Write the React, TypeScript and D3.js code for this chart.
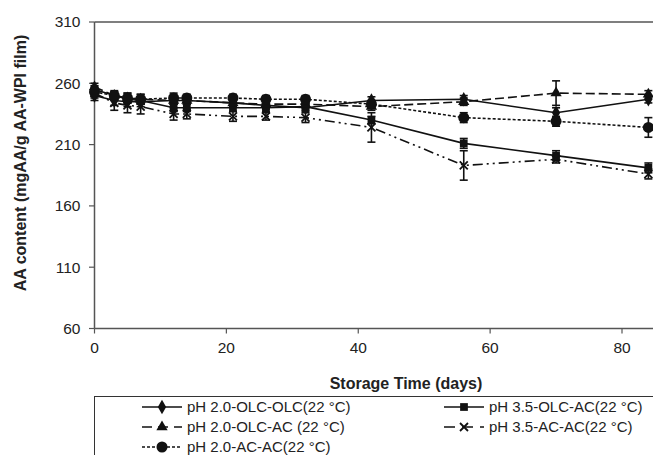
import React, { useEffect } from 'react';
import * as d3 from 'd3';

const days = [0, 3, 5, 7, 12, 14, 21, 26, 32, 42, 56, 70, 84];
const ph20OlcOlc = [250, 246, 245, 245, 246, 246, 244, 242, 240, 246, 247, 236, 247];
const ph20OlcOlcErr = [4, 4, 4, 4, 3, 3, 3, 3, 3, 3, 3, 4, 3];
const ph35OlcAc = [255, 250, 247, 246, 240, 240, 240, 240, 241, 230, 211, 201, 191];
const ph35OlcAcErr = [3, 3, 3, 3, 3, 3, 3, 3, 3, 3, 4, 4, 4];
const ph20OlcAc = [257, 250, 248, 247, 246, 246, 244, 243, 243, 241, 245, 252, 251];
const ph20OlcAcErr = [3, 4, 4, 4, 3, 3, 3, 3, 3, 3, 3, 10, 3];
const ph35AcAc = [252, 244, 242, 241, 235, 235, 233, 233, 232, 224, 193, 198, 186];
const ph35AcAcErr = [4, 6, 6, 6, 5, 4, 4, 3, 4, 12, 12, 3, 4];
const ph20AcAc = [253, 250, 248, 247, 248, 248, 248, 247, 247, 243, 232, 229, 224];
const ph20AcAcErr = [3, 3, 4, 4, 4, 3, 3, 3, 3, 3, 4, 4, 8];

const yTicks = [60, 110, 160, 210, 260, 310];
const xTicks = [0, 20, 40, 60, 80];

const labels = [
  'pH 2.0-OLC-OLC(22 °C)',
  'pH 3.5-OLC-AC(22 °C)',
  'pH 2.0-OLC-AC (22 °C)',
  'pH 3.5-AC-AC(22 °C)',
  'pH 2.0-AC-AC(22 °C)',
];

type Series = { label: string; values: number[]; err: number[]; dash: string; legendDash: string; marker: string };

const series: Series[] = [
  { label: labels[0], values: ph20OlcOlc, err: ph20OlcOlcErr, dash: '', legendDash: '', marker: 'diamond' },
  { label: labels[1], values: ph35OlcAc, err: ph35OlcAcErr, dash: '', legendDash: '', marker: 'square' },
  { label: labels[2], values: ph20OlcAc, err: ph20OlcAcErr, dash: '9,4', legendDash: '10,6', marker: 'triangle' },
  { label: labels[3], values: ph35AcAc, err: ph35AcAcErr, dash: '10,4,2,4,2,4', legendDash: '11,7', marker: 'x' },
  { label: labels[4], values: ph20AcAc, err: ph20AcAcErr, dash: '3,2', legendDash: '3,2', marker: 'circle' },
];

const FONT = 'Liberation Sans, Arial, sans-serif';

function Marker({ type, x, y }: { type: string; x: number; y: number }) {
  if (type === 'x') {
    const s = 4;
    return (
      <path
        d={`M${x - s},${y - s}L${x + s},${y + s}M${x - s},${y + s}L${x + s},${y - s}`}
        stroke="#111"
        strokeWidth={1.8}
        fill="none"
      />
    );
  }
  const sym =
    type === 'diamond'
      ? d3.symbolDiamond
      : type === 'square'
      ? d3.symbolSquare
      : type === 'triangle'
      ? d3.symbolTriangle
      : d3.symbolCircle;
  const size = type === 'circle' ? 95 : type === 'diamond' ? 60 : type === 'triangle' ? 55 : 60;
  const d = d3.symbol().type(sym).size(size)() as string;
  return <path d={d} transform={`translate(${x},${y})`} fill="#111" />;
}

export default function App() {
  useEffect(() => {
    document.body.style.margin = '0';
  }, []);
  const W = 653;
  const H = 455;
  const x = d3.scaleLinear().domain([0, 80]).range([94.5, 622]);
  const y = d3.scaleLinear().domain([60, 310]).range([328.5, 22]);
  const line = d3
    .line<number>()
    .x((_, i) => x(days[i]))
    .y((v) => y(v));

  const legendRows = [407, 427, 447];
  const legendPos = [
    { lx: 142, ly: legendRows[0] },
    { lx: 444, ly: legendRows[0] },
    { lx: 142, ly: legendRows[1] },
    { lx: 444, ly: legendRows[1] },
    { lx: 142, ly: legendRows[2] },
  ];

  return (
    <div style={{ position: 'absolute', left: 0, top: 0 }}>
      <svg width={W} height={H} style={{ display: 'block', background: '#fff' }} fontFamily={FONT}>
        <rect x={0} y={0} width={W} height={H} fill="#fff" />
        <line x1={94.5} x2={W} y1={y(310)} y2={y(310)} stroke="#555" strokeWidth={1.5} />
        <line x1={94.5} x2={94.5} y1={y(310)} y2={y(60)} stroke="#555" strokeWidth={1.5} />
        <line x1={94.5} x2={W} y1={y(60)} y2={y(60)} stroke="#555" strokeWidth={1.5} />
        {yTicks.map((t) => (
          <g key={'y' + t}>
            <line x1={89} x2={94.5} y1={y(t)} y2={y(t)} stroke="#555" strokeWidth={1.2} />
            <text x={80.5} y={y(t)} dy="0.35em" textAnchor="end" fontSize={15.5} fill="#222">
              {t}
            </text>
          </g>
        ))}
        {xTicks.map((t) => (
          <g key={'x' + t}>
            <line x1={x(t)} x2={x(t)} y1={y(60)} y2={y(60) + 5} stroke="#555" strokeWidth={1.2} />
            <text x={x(t)} y={348} dy="0.35em" textAnchor="middle" fontSize={15.5} fill="#222">
              {t}
            </text>
          </g>
        ))}
        <text
          x={406}
          y={383}
          dy="0.35em"
          textAnchor="middle"
          fontSize={16}
          fontWeight="bold"
          fill="#222"
        >
          Storage Time (days)
        </text>
        <text
          transform={`translate(20,163) rotate(-90)`}
          dy="0.35em"
          textAnchor="middle"
          fontSize={16}
          fontWeight="bold"
          fill="#222"
        >
          AA content (mgAA/g AA-WPI film)
        </text>

        {series.map((s) => (
          <path
            key={'l' + s.label}
            d={line(s.values) as string}
            fill="none"
            stroke="#111"
            strokeWidth={1.6}
            strokeDasharray={s.dash || undefined}
          />
        ))}
        {series.map((s) =>
          s.values.map((v, i) => {
            const cx = x(days[i]);
            const y1 = y(v + s.err[i]);
            const y2 = y(v - s.err[i]);
            return (
              <g key={'e' + s.label + i} stroke="#111" strokeWidth={1.6}>
                <line x1={cx} x2={cx} y1={y1} y2={y2} />
                <line x1={cx - 4} x2={cx + 4} y1={y1} y2={y1} />
                <line x1={cx - 4} x2={cx + 4} y1={y2} y2={y2} />
              </g>
            );
          })
        )}
        {series.map((s) =>
          s.values.map((v, i) => (
            <Marker key={'m' + s.label + i} type={s.marker} x={x(days[i])} y={y(v)} />
          ))
        )}

        <rect x={94.5} y={396.5} width={700} height={100} fill="none" stroke="#333" strokeWidth={1} />
        {series.map((s, i) => {
          const p = legendPos[i];
          return (
            <g key={'lg' + s.label}>
              <line
                x1={p.lx}
                x2={p.lx + 40}
                y1={p.ly}
                y2={p.ly}
                stroke="#111"
                strokeWidth={1.5}
                strokeDasharray={s.legendDash || undefined}
              />
              <Marker type={s.marker} x={p.lx + 20} y={p.ly} />
              <text x={p.lx + 45} y={p.ly} dy="0.35em" fontSize={15} fill="#222">
                {s.label}
              </text>
            </g>
          );
        })}
      </svg>
    </div>
  );
}
